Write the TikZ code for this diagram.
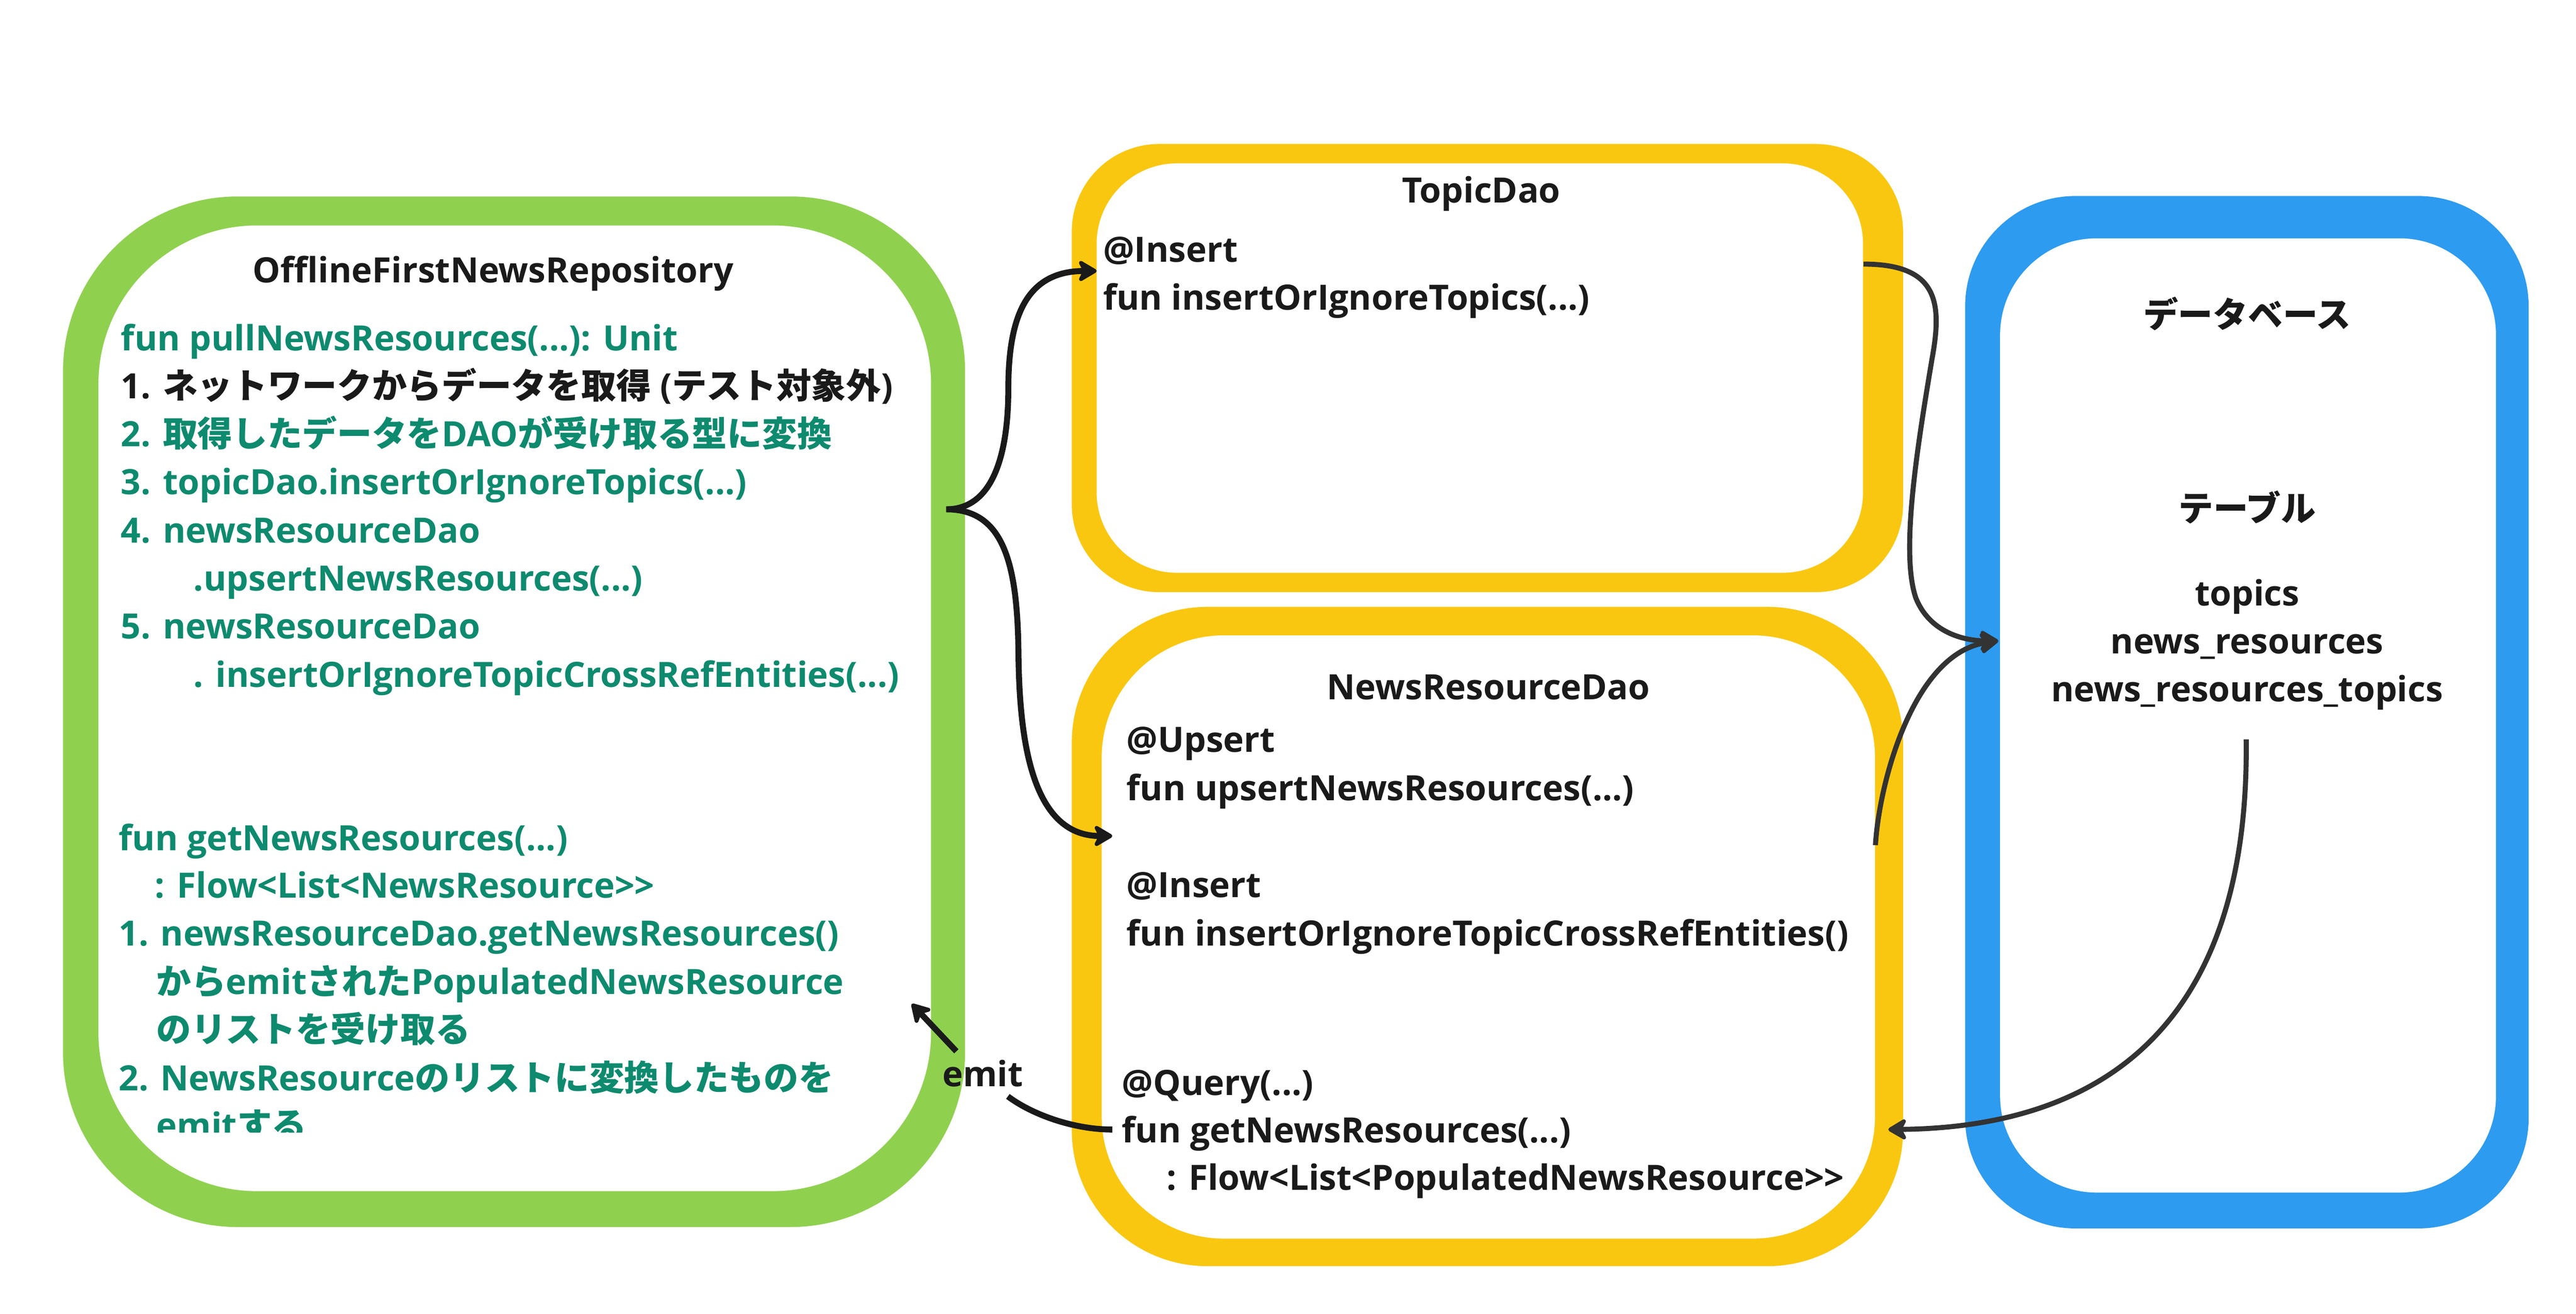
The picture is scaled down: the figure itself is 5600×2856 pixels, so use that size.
\documentclass[tikz,border=0pt]{standalone}
\usepackage{fontspec}
\setmainfont{Open Sans}
\newfontfamily\jpf{Noto Sans CJK JP}
\usetikzlibrary{arrows.meta}
\newcommand\jtxt[1]{{\jpf #1}}
\definecolor{gfill}{HTML}{8FD14F}
\definecolor{yfill}{HTML}{FAC710}
\definecolor{bfill}{HTML}{2D9BF0}
\definecolor{ink}{HTML}{1A1A1A}
\definecolor{inktwo}{HTML}{333333}
\definecolor{tealc}{HTML}{0E8A6E}
\tikzset{
  box/.style={rectangle, inner sep=0pt, outer sep=0pt, draw=none},
  txt/.style={inner sep=0pt, outer sep=0pt, anchor=base west, text=ink,
    font=\bfseries\fontsize{75.8pt}{104pt}\selectfont},
  gtxt/.style={txt, text=tealc},
  ctxt/.style={txt, anchor=base},
  tipA/.style={-{Stealth[length=48pt,width=56pt,inset=14pt,round]}},
  arr/.style={line width=13pt, draw=ink, tipA},
  arrtwo/.style={line width=11pt, draw=inktwo, tipA},
  ln/.style={line width=13pt, draw=ink},
}
\begin{document}
\begin{tikzpicture}[x=1pt,y=-1pt]
\useasboundingbox (0,0) rectangle (5600,2856);
\fill[white] (0,0) rectangle (5600,2856);

% ---- boxes ----
\node[box, fill=gfill, minimum width=1961pt, minimum height=2240pt, rounded corners=380pt] (repoOuter) at (1117.5,1547) {};
\node[box, fill=white, minimum width=1810pt, minimum height=2099pt, rounded corners=345pt] (repoInner) at (1119,1539.5) {};

\node[box, fill=yfill, minimum width=1807pt, minimum height=974pt, rounded corners=190pt] (topicOuter) at (3233.5,800) {};
\node[box, fill=white, minimum width=1666pt, minimum height=890pt, rounded corners=175pt] (topicInner) at (3217,800) {};

\node[box, fill=yfill, minimum width=1807pt, minimum height=1433pt, rounded corners=295pt] (nrOuter) at (3233.5,2035.5) {};
\node[box, fill=white, minimum width=1681pt, minimum height=1311pt, rounded corners=265pt] (nrInner) at (3235.5,2036.5) {};

\node[box, fill=bfill, minimum width=1225pt, minimum height=2244pt, rounded corners=240pt] (dbOuter) at (4884.5,1548) {};
\node[box, fill=white, minimum width=1078pt, minimum height=2074pt, rounded corners=210pt] (dbInner) at (4887,1555) {};

% ---- repository texts ----
\node[ctxt] (repoTitle) at (1072,614) {OfflineFirstNewsRepository};
\node[gtxt] (r1) at (263,762) {fun pullNewsResources(...): Unit};
\node[txt]  (r2) at (263,866) {1. \jtxt{ネットワークからデータを取得} (\jtxt{テスト対象外})};
\node[gtxt] (r3) at (263,971) {2. \jtxt{取得したデータを}DAO\jtxt{が受け取る型に変換}};
\node[gtxt] (r4) at (263,1075) {3. topicDao.insertOrIgnoreTopics(...)};
\node[gtxt] (r5) at (263,1180) {4. newsResourceDao};
\node[gtxt] (r6) at (421,1284) {.upsertNewsResources(...)};
\node[gtxt] (r7) at (263,1388) {5. newsResourceDao};
\node[gtxt] (r8) at (421,1493) {. insertOrIgnoreTopicCrossRefEntities(...)};

\node[gtxt] (s1) at (258,1848) {fun getNewsResources(...)};
\node[gtxt] (s2) at (337,1952) {: Flow<List<NewsResource>{}>};
\node[gtxt] (s3) at (258,2056) {1. newsResourceDao.getNewsResources()};
\node[gtxt] (s4) at (340,2161) {\jtxt{から}emit\jtxt{された}PopulatedNewsResource};
\node[gtxt] (s5) at (340,2265) {\jtxt{のリストを受け取る}};
\node[gtxt] (s6) at (258,2370) {2. NewsResource\jtxt{のリストに変換したものを}};
\begin{scope}
\clip (0,0) rectangle (5600,2461);
\node[gtxt] (s7) at (340,2474) {emit\jtxt{する}};
\end{scope}

% ---- TopicDao texts ----
\node[ctxt] (topicTitle) at (3220,441) {TopicDao};
\node[txt] (t1) at (2398,570) {@Insert};
\node[txt] (t2) at (2398,674) {fun insertOrIgnoreTopics(...)};

% ---- NewsResourceDao texts ----
\node[ctxt] (nrTitle) at (3236,1520) {NewsResourceDao};
\node[txt] (n1) at (2449,1635) {@Upsert};
\node[txt] (n2) at (2449,1740) {fun upsertNewsResources(...)};
\node[txt] (n3) at (2449,1951) {@Insert};
\node[txt] (n4) at (2449,2056) {fun insertOrIgnoreTopicCrossRefEntities()};
\node[txt] (n5) at (2439,2381) {@Query(...)};
\node[txt] (n6) at (2439,2484) {fun getNewsResources(...)};
\node[txt] (n7) at (2536,2587) {: Flow<List<PopulatedNewsResource>{}>};

% ---- database texts ----
\node[ctxt] (dbTitle) at (4885,712) {\jtxt{データベース}};
\node[ctxt] (dbTable) at (4885,1133) {\jtxt{テーブル}};
\node[ctxt] (db1) at (4885,1316) {topics};
\node[ctxt] (db2) at (4885,1421) {news\_resources};
\node[ctxt] (db3) at (4885,1525) {news\_resources\_topics};

% ---- connector end points ----
\coordinate (brace) at (2057,1107);
\coordinate (topicIn) at (2384,589);
\coordinate (nrIn) at (2418,1817);
\coordinate (topicOut) at (4051,574);
\coordinate (nrOut) at (4077,1837);
\coordinate (dbIn) at (4344,1393);
\coordinate (dbOut) at (4883,1607);
\coordinate (nrGetIn) at (4105,2455);
\coordinate (nrEmitOut) at (2418,2455);
\coordinate (emitA) at (2191,2383);
\coordinate (emitB) at (2079,2285);
\coordinate (repoIn) at (1982,2182);

% ---- connectors ----
\draw[arr] (brace) .. controls (2170,1107) and (2192,960) .. (2192,845)
  .. controls (2192,690) and (2230,589) .. (topicIn);
\draw[arr] (brace) .. controls (2180,1107) and (2212,1220) .. (2214,1420)
  .. controls (2216,1600) and (2240,1817) .. (nrIn);
\draw[arrtwo] (topicOut) .. controls (4215,574) and (4222,660) .. (4200,780)
  .. controls (4170,960) and (4130,1200) .. (4165,1300)
  .. controls (4195,1375) and (4270,1393) .. (dbIn);
\draw[arrtwo] (nrOut) .. controls (4085,1700) and (4160,1420) .. (dbIn);
\draw[arrtwo] (dbOut) .. controls (4890,2200) and (4600,2450) .. (nrGetIn);

\draw[ln] (nrEmitOut) .. controls (2330,2455) and (2240,2420) .. (emitA);
\node[txt] (emitLbl) at (2049,2361) {emit};
\draw[arr] (emitB) -- (repoIn);
\end{tikzpicture}
\end{document}
